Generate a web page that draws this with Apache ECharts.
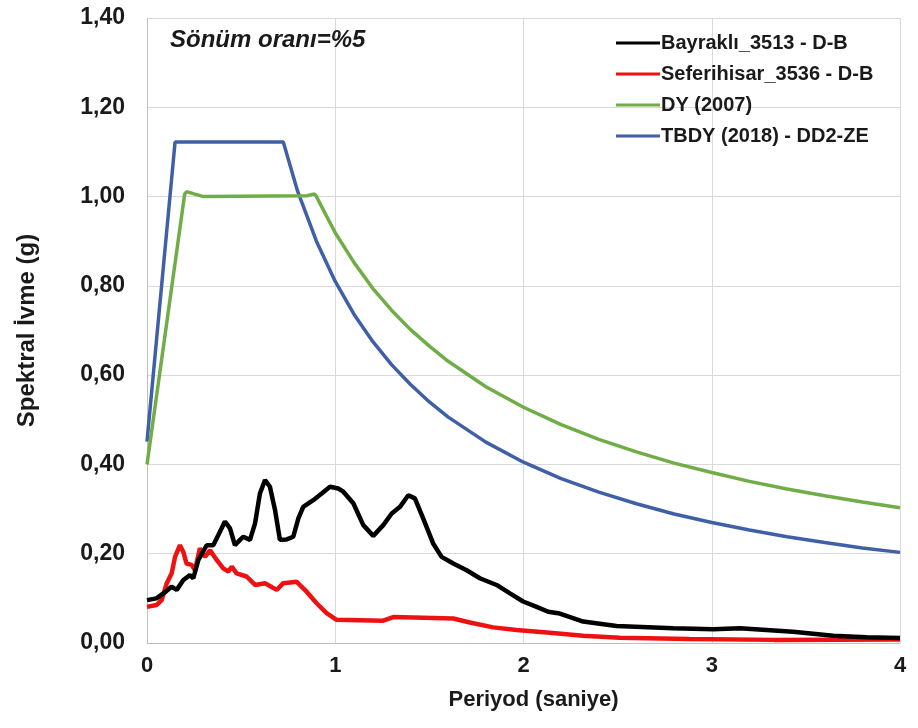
<!DOCTYPE html>
<html><head><meta charset="utf-8">
<script src="https://cdn.jsdelivr.net/npm/echarts@6/dist/echarts.min.js"></script>
<style>html,body{margin:0;padding:0;background:#fff}#c{width:918px;height:728px}</style>
</head><body><div id="c"></div>
<script>
const seriesNames = ["Bayraklı_3513 - D-B","Seferihisar_3536 - D-B","DY (2007)","TBDY (2018) - DD2-ZE"];
const xTicks = [0,1,2,3,4];
const yTicks = [0,0.2,0.4,0.6,0.8,1.0,1.2,1.4];

const bayrakliT = [0,0.05,0.10,0.13,0.158,0.193,0.228,0.246,0.273,0.317,0.352,0.379,0.414,0.441,0.467,0.494,0.511,0.547,0.574,0.600,0.627,0.653,0.680,0.706,0.742,0.777,0.804,0.830,0.883,0.928,0.972,1.016,1.043,1.096,1.149,1.202,1.255,1.30,1.344,1.388,1.423,1.467,1.520,1.565,1.627,1.698,1.768,1.857,1.928,1.998,2.07,2.131,2.193,2.317,2.494,2.795,3.008,3.149,3.432,3.645,3.822,4.0];
const bayrakliSa = [0.096,0.100,0.115,0.126,0.119,0.141,0.152,0.145,0.186,0.219,0.219,0.242,0.272,0.257,0.219,0.231,0.238,0.231,0.268,0.335,0.365,0.350,0.298,0.231,0.232,0.238,0.279,0.305,0.320,0.335,0.350,0.346,0.339,0.313,0.264,0.240,0.264,0.290,0.305,0.331,0.324,0.279,0.223,0.193,0.178,0.163,0.145,0.130,0.111,0.093,0.081,0.070,0.066,0.048,0.038,0.033,0.031,0.033,0.025,0.016,0.013,0.011];

const seferihisarT = [0,0.05,0.078,0.105,0.131,0.149,0.175,0.193,0.210,0.237,0.255,0.281,0.308,0.335,0.370,0.405,0.432,0.450,0.476,0.529,0.574,0.627,0.689,0.724,0.795,0.848,0.901,0.954,1.007,1.255,1.308,1.627,1.715,1.839,1.963,2.14,2.317,2.51,2.88,3.33,4.0];
const seferihisarSa = [0.081,0.085,0.096,0.134,0.156,0.193,0.219,0.204,0.178,0.175,0.163,0.212,0.193,0.208,0.186,0.167,0.160,0.171,0.156,0.149,0.130,0.134,0.119,0.134,0.137,0.115,0.089,0.067,0.052,0.050,0.058,0.055,0.046,0.035,0.029,0.023,0.016,0.012,0.009,0.007,0.008];

const dyT = [0,0.20,0.21,0.25,0.30,0.85,0.89,0.90,1.0,1.1,1.2,1.3,1.4,1.5,1.6,1.8,2.0,2.2,2.4,2.6,2.8,3.0,3.2,3.4,3.6,3.8,4.0];
const dySa = [0.400,1.005,1.011,1.006,1.000,1.002,1.006,1.000,0.919,0.852,0.794,0.745,0.702,0.665,0.631,0.574,0.528,0.489,0.456,0.428,0.403,0.382,0.362,0.345,0.330,0.316,0.303];

const tbdyT = [0,0.149,0.724,0.8,0.9,1.0,1.1,1.2,1.3,1.4,1.5,1.6,1.8,2.0,2.2,2.4,2.6,2.8,3.0,3.2,3.4,3.6,3.8,4.0];
const tbdySa = [0.451,1.122,1.122,1.012,0.900,0.810,0.736,0.675,0.623,0.579,0.540,0.506,0.450,0.405,0.368,0.338,0.312,0.289,0.270,0.253,0.238,0.225,0.213,0.203];

const colors = ["#000000","#ee1111","#70ad47","#3f5fa6"];
const widths = [4.5,4.5,3.5,3.5];
const xs = [bayrakliT, seferihisarT, dyT, tbdyT];
const ys = [bayrakliSa, seferihisarSa, dySa, tbdySa];

const chart = echarts.init(document.getElementById('c'));
const FONT = "Liberation Sans";
chart.setOption({
  animation:false,
  backgroundColor:'#fff',
  title:{text:"Sönüm oranı=%5",left:165,top:23,textStyle:{fontFamily:FONT,fontSize:24,fontWeight:'bold',fontStyle:'italic',color:'#1a1a1a'}},
  legend:{
    orient:'vertical',left:611,top:28,itemWidth:44,itemHeight:3,itemGap:11,
    icon:'rect',
    textStyle:{fontFamily:FONT,fontSize:20,fontWeight:'bold',color:'#1a1a1a',padding:[0,0,0,-4]},
    data:seriesNames
  },
  grid:{left:147,right:18,top:18,bottom:85,containLabel:false},
  xAxis:{type:'value',min:0,max:4,interval:1,
    name:'Periyod (saniye)',nameLocation:'middle',nameGap:46,
    nameTextStyle:{fontFamily:FONT,fontSize:22,fontWeight:'bold',color:'#1a1a1a',padding:[0,0,0,20]},
    axisLine:{show:true,lineStyle:{color:'#bfbfbf',width:1}},axisTick:{show:false},
    axisLabel:{fontFamily:FONT,fontSize:22,fontWeight:'bold',color:'#1a1a1a',margin:12,formatter:v=>String(v)},
    splitLine:{show:true,lineStyle:{color:'#d9d9d9',width:1}}},
  yAxis:{type:'value',min:0,max:1.4,interval:0.2,
    name:'Spektral İvme (g)',nameLocation:'middle',nameGap:108,nameRotate:90,
    nameTextStyle:{fontFamily:FONT,fontSize:24,fontWeight:'bold',color:'#1a1a1a'},
    axisLine:{show:true,lineStyle:{color:'#bfbfbf',width:1}},axisTick:{show:false},
    axisLabel:{fontFamily:FONT,fontSize:23,fontWeight:'bold',color:'#1a1a1a',margin:22,formatter:v=>v.toFixed(2).replace('.',',')},
    splitLine:{show:true,lineStyle:{color:'#d9d9d9',width:1}}},
  series:seriesNames.map((n,i)=>({
    name:n,type:'line',showSymbol:false,symbol:'none',smooth:false,
    color:colors[i],
    lineStyle:{color:colors[i],width:widths[i]},
    z:4-i,
    data:xs[i].map((t,k)=>[t,ys[i][k]])
  }))
});
</script></body></html>
